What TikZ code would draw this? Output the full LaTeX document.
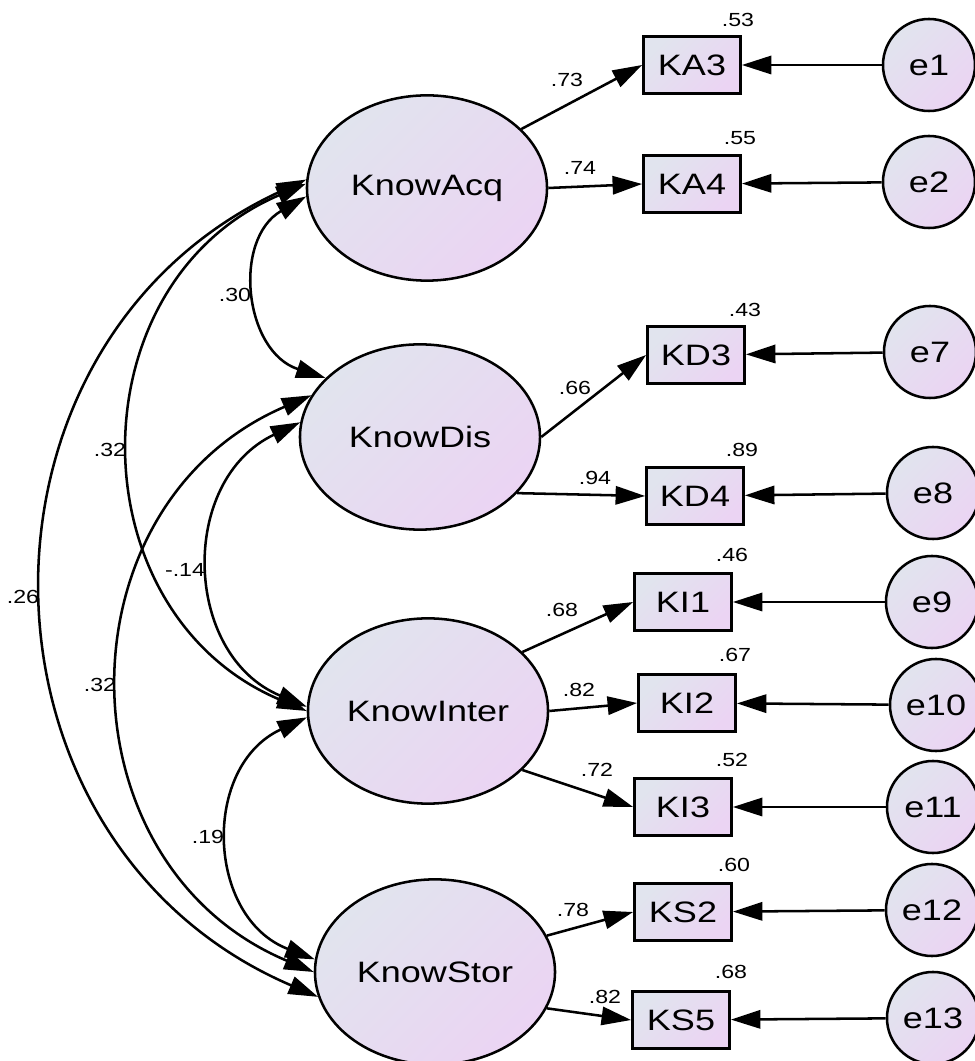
\documentclass[tikz,border=0pt]{standalone}
\usepackage{fontspec}
\setmainfont{Liberation Sans}[FakeStretch=1.22]
\usetikzlibrary{arrows.meta,shapes.geometric}
\definecolor{gA}{HTML}{E1E4EE}
\definecolor{gB}{HTML}{EBD4F3}
\begin{document}
\begin{tikzpicture}[x=0.025cm,y=0.025cm,line width=1.8pt,
    fillgrad/.style={top color=gA,bottom color=gB,shading angle=45},
    big/.style={font=\fontsize{21}{24}\selectfont},
    latent/.style={ellipse,draw,fillgrad,big,minimum width=6cm,minimum height=4.63cm,inner sep=0pt},
    obs/.style={rectangle,draw,fillgrad,big,minimum width=2.43cm,minimum height=1.43cm,inner sep=0pt},
    err/.style={circle,draw,fillgrad,big,minimum size=2.3cm,inner sep=0pt},
    load/.style={-{Triangle[length=21pt,width=13pt]}},
    cov/.style={{Triangle[length=21pt,width=13pt]}-{Triangle[length=21pt,width=13pt]}},
    lbl/.style={font=\fontsize{13.5}{15}\selectfont,inner sep=0pt}]
  \useasboundingbox (0,0) rectangle (975,1061);

  % LATENT
  \node[latent] (acq)   at (427,873) {KnowAcq};
  \node[latent] (dis)   at (420,624) {KnowDis};
  \node[latent] (inter) at (428,350) {KnowInter};
  \node[latent] (stor)  at (435,89)  {KnowStor};

  % ITEMS
  \node[obs] (ka3) at (692,996) {KA3};
  \node[obs] (ka4) at (692,877) {KA4};
  \node[obs] (kd3) at (696,706) {KD3};
  \node[obs] (kd4) at (695,565) {KD4};
  \node[obs] (ki1) at (683,459) {KI1};
  \node[obs] (ki2) at (687,358) {KI2};
  \node[obs] (ki3) at (683,254) {KI3};
  \node[obs] (ks2) at (683,149) {KS2};
  \node[obs] (ks5) at (681,41)  {KS5};

  % ERRORS
  \node[err] (e1)  at (929,996) {e1};
  \node[err] (e2)  at (929,879) {e2};
  \node[err] (e7)  at (930,709) {e7};
  \node[err] (e8)  at (933,568) {e8};
  \node[err] (e9)  at (932,459) {e9};
  \node[err] (e10) at (936,356) {e10};
  \node[err] (e11) at (933,254) {e11};
  \node[err] (e12) at (932,151) {e12};
  \node[err] (e13) at (933,43)  {e13};

  % ARROWS
  \draw[load] (acq.32)    -- (ka3.west);
  \draw[load] (acq.east)  -- (ka4.west);
  \draw[load] (dis.east)  -- (kd3.west);
  \draw[load] (dis.-30)   -- (kd4.west);
  \draw[load] (inter.32)  -- (ki1.west);
  \draw[load] (inter.east) -- (ki2.west);
  \draw[load] (inter.-32) -- (ki3.west);
  \draw[load] (stor.18)   -- (ks2.west);
  \draw[load] (stor.-18)  -- (ks5.west);

  \draw[load] (e1) -- (ka3);
  \draw[load] (e2) -- (ka4);
  \draw[load] (e7) -- (kd3);
  \draw[load] (e8) -- (kd4);
  \draw[load] (e9) -- (ki1);
  \draw[load] (e10) -- (ki2);
  \draw[load] (e11) -- (ki3);
  \draw[load] (e12) -- (ks2);
  \draw[load] (e13) -- (ks5);

  % COVARIANCES
  \draw[cov] (acq.184) to[bend right=66,looseness=1.2] (dis.148);
  \draw[cov] (acq.178) to[bend right=67,looseness=1.23] (inter.180);
  \draw[cov] (acq.176) to[bend right=66,looseness=1.22] (stor.192);
  \draw[cov] (dis.173) to[bend right=66,looseness=1.21] (inter.178);
  \draw[cov] (dis.159) to[bend right=67,looseness=1.23] (stor.180);
  \draw[cov] (inter.183) to[bend right=67,looseness=1.23] (stor.174);

  % NOTES
  \node[lbl] (w1) at (567,981) {.73};
  \node[lbl] (w2) at (580,893) {.74};
  \node[lbl] (w3) at (575,673) {.66};
  \node[lbl] (w4) at (595,583) {.94};
  \node[lbl] (w5) at (562,451) {.68};
  \node[lbl] (w6) at (579,371) {.82};
  \node[lbl] (w7) at (597,291) {.72};
  \node[lbl] (w8) at (573,151) {.78};
  \node[lbl] (w9) at (605,64)  {.82};

  \node[lbl] (r1) at (738,1041) {.53};
  \node[lbl] (r2) at (740,923)  {.55};
  \node[lbl] (r3) at (745,751)  {.43};
  \node[lbl] (r4) at (742,611)  {.89};
  \node[lbl] (r5) at (732,506)  {.46};
  \node[lbl] (r6) at (735,406)  {.67};
  \node[lbl] (r7) at (732,301)  {.52};
  \node[lbl] (r8) at (734,196)  {.60};
  \node[lbl] (r9) at (731,89)   {.68};

  \node[lbl] (c1) at (235,766) {.30};
  \node[lbl] (c2) at (110,611) {.32};
  \node[lbl] (c3) at (23,464)  {.26};
  \node[lbl] (c4) at (185,491) {-.14};
  \node[lbl] (c5) at (100,376) {.32};
  \node[lbl] (c6) at (208,224) {.19};
\end{tikzpicture}
\end{document}
